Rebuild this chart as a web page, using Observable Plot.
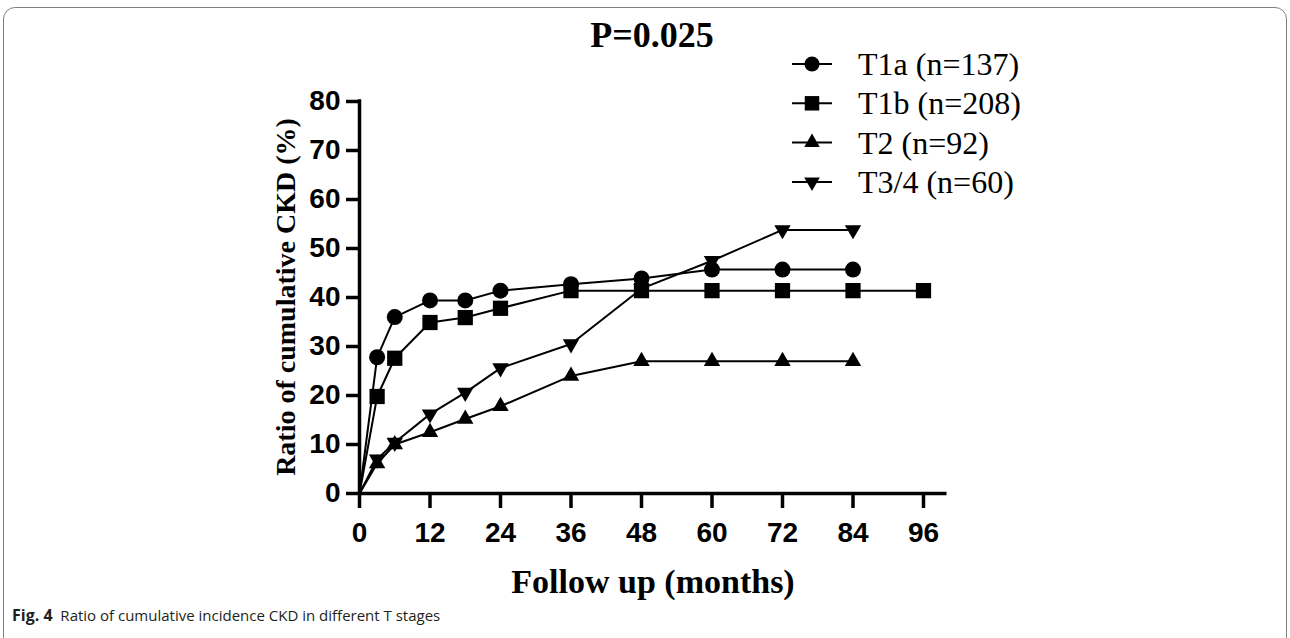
<!DOCTYPE html>
<html>
<head>
<meta charset="utf-8">
<script src="https://cdn.jsdelivr.net/npm/d3@7"></script>
<script src="https://cdn.jsdelivr.net/npm/@observablehq/plot@0.6"></script>
<style>
html, body { margin: 0; padding: 0; background: #fff; }
#wrap { position: relative; width: 1290px; height: 638px; overflow: hidden; background: #fff; }
#frame { position: absolute; left: 3px; top: 7px; width: 1284px; height: 645px; border: 1.5px solid #808080; border-radius: 12px; box-sizing: border-box; }
#chart { position: absolute; left: 0; top: 0; }
#caption { position: absolute; left: 12px; top: 604px; font-family: "Open Sans", sans-serif; font-size: 15px; color: #231f20; white-space: nowrap; }
#caption b { font-weight: 700; font-size: 16px; }
</style>
</head>
<body>
<div id="wrap">
  <div id="frame"></div>
  <div id="chart"></div>
  <div id="caption"><b>Fig. 4</b>&nbsp; Ratio of cumulative incidence CKD in different T stages</div>
</div>
<script>
// ---- Data ----
const seriesNames = ["T1a (n=137)", "T1b (n=208)", "T2 (n=92)", "T3/4 (n=60)"];

const monthsT1a = [0, 3, 6, 12, 18, 24, 36, 48, 60, 72, 84];
const valuesT1a = [0, 27.8, 36.0, 39.4, 39.4, 41.4, 42.7, 43.9, 45.7, 45.7, 45.7];

const monthsT1b = [0, 3, 6, 12, 18, 24, 36, 48, 60, 72, 84, 96];
const valuesT1b = [0, 19.8, 27.6, 34.9, 35.9, 37.8, 41.4, 41.4, 41.4, 41.4, 41.4, 41.4];

const monthsT2 = [0, 3, 6, 12, 18, 24, 36, 48, 60, 72, 84];
const valuesT2 = [0, 6.1, 10.0, 12.5, 15.2, 17.8, 24.0, 27.0, 27.0, 27.0, 27.0];

const monthsT34 = [0, 3, 6, 12, 18, 24, 36, 48, 60, 72, 84];
const valuesT34 = [0, 7.0, 10.4, 16.2, 20.6, 25.6, 30.5, 41.8, 47.5, 53.8, 53.8];

const xTicks = [0, 12, 24, 36, 48, 60, 72, 84, 96];
const yTicks = [0, 10, 20, 30, 40, 50, 60, 70, 80];

const titleText = "P=0.025";
const xLabelText = "Follow up (months)";
const yLabelText = "Ratio of cumulative CKD (%)";

// ---- Build table ----
const monthsList = [monthsT1a, monthsT1b, monthsT2, monthsT34];
const valuesList = [valuesT1a, valuesT1b, valuesT2, valuesT34];
const rows = [];
seriesNames.forEach((s, i) => {
  monthsList[i].forEach((m, j) => rows.push({series: s, month: m, value: valuesList[i][j]}));
});

// down-pointing triangle symbol
const triangleDown = {
  draw(context, size) {
    const sqrt3 = Math.sqrt(3);
    const y = -Math.sqrt(size / (sqrt3 * 3));
    context.moveTo(0, -y * 2);
    context.lineTo(-sqrt3 * y, y);
    context.lineTo(sqrt3 * y, y);
    context.closePath();
  }
};
const symbols = [d3.symbolCircle, d3.symbolSquare, d3.symbolTriangle, triangleDown];
const radii = [8, 8.6, 6.1, 6.1];

const serifFont = '"Liberation Serif", "Times New Roman", serif';
const sansFont = '"Liberation Sans", Arial, sans-serif';

const W = 1290, H = 638;
const marks = [
  Plot.line(rows, {x: "month", y: "value", z: "series", stroke: "black", strokeWidth: 2}),
  ...seriesNames.map((s, i) =>
    Plot.dot(rows.filter(d => d.series === s && d.month > 0), {
      x: "month", y: "value", symbol: () => symbols[i], r: radii[i], fill: "black", stroke: "none"
    })
  ),
  Plot.axisY({ticks: yTicks, tickSize: 13, tickPadding: 6, fontSize: 28, fontWeight: "bold",
    fontFamily: sansFont, strokeWidth: 3.5, label: null, fill: "black", stroke: "black"}),
  Plot.axisX({ticks: xTicks, tickSize: 15, tickPadding: 14, fontSize: 28, fontWeight: "bold",
    fontFamily: sansFont, strokeWidth: 3.5, label: null, fill: "black", stroke: "black"}),
  Plot.ruleX([0], {y1: 0, y2: 80, stroke: "black", strokeWidth: 3.5, strokeLinecap: "square"}),
  Plot.ruleY([0], {x1: 0, x2: 100, stroke: "black", strokeWidth: 3.5})
];

const chart = Plot.plot({
  width: W,
  height: H,
  marginLeft: 359,
  marginRight: W - 946.5,
  marginTop: 101,
  marginBottom: H - 493,
  x: {domain: [0, 100]},
  y: {domain: [0, 80]},
  style: {background: "transparent", color: "black", overflow: "visible"},
  marks
});
document.getElementById("chart").appendChild(chart);

const svg = d3.select(chart);

// Title
svg.append("text").attr("x", 652).attr("y", 47).attr("text-anchor", "middle")
  .attr("font-family", serifFont).attr("font-weight", "bold").attr("font-size", 36)
  .attr("fill", "black").text(titleText);

// X label
svg.append("text").attr("x", 653).attr("y", 593).attr("text-anchor", "middle")
  .attr("font-family", serifFont).attr("font-weight", "bold").attr("font-size", 34)
  .attr("fill", "black").text(xLabelText);

// Y label
svg.append("text").attr("transform", "translate(285,297) rotate(-90)")
  .attr("text-anchor", "middle").attr("dominant-baseline", "central")
  .attr("font-family", serifFont).attr("font-weight", "bold").attr("font-size", 28)
  .attr("fill", "black").text(yLabelText);

// Legend
const legend = svg.append("g");
seriesNames.forEach((s, i) => {
  const cy = 64 + i * 39.3;
  const g = legend.append("g").attr("transform", `translate(0,${cy})`);
  g.append("line").attr("x1", 792).attr("x2", 832).attr("y1", 0).attr("y2", 0)
    .attr("stroke", "black").attr("stroke-width", 2);
  g.append("path").attr("transform", "translate(812,0)")
    .attr("d", d3.symbol().type(symbols[i]).size(Math.PI * radii[i] * radii[i] * 0.9)())
    .attr("fill", "black");
  g.append("text").attr("x", 858).attr("y", 0).attr("dominant-baseline", "central")
    .attr("text-anchor", "start")
    .attr("font-family", serifFont).attr("font-size", 32).attr("fill", "black").text(s);
});
</script>
</body>
</html>
